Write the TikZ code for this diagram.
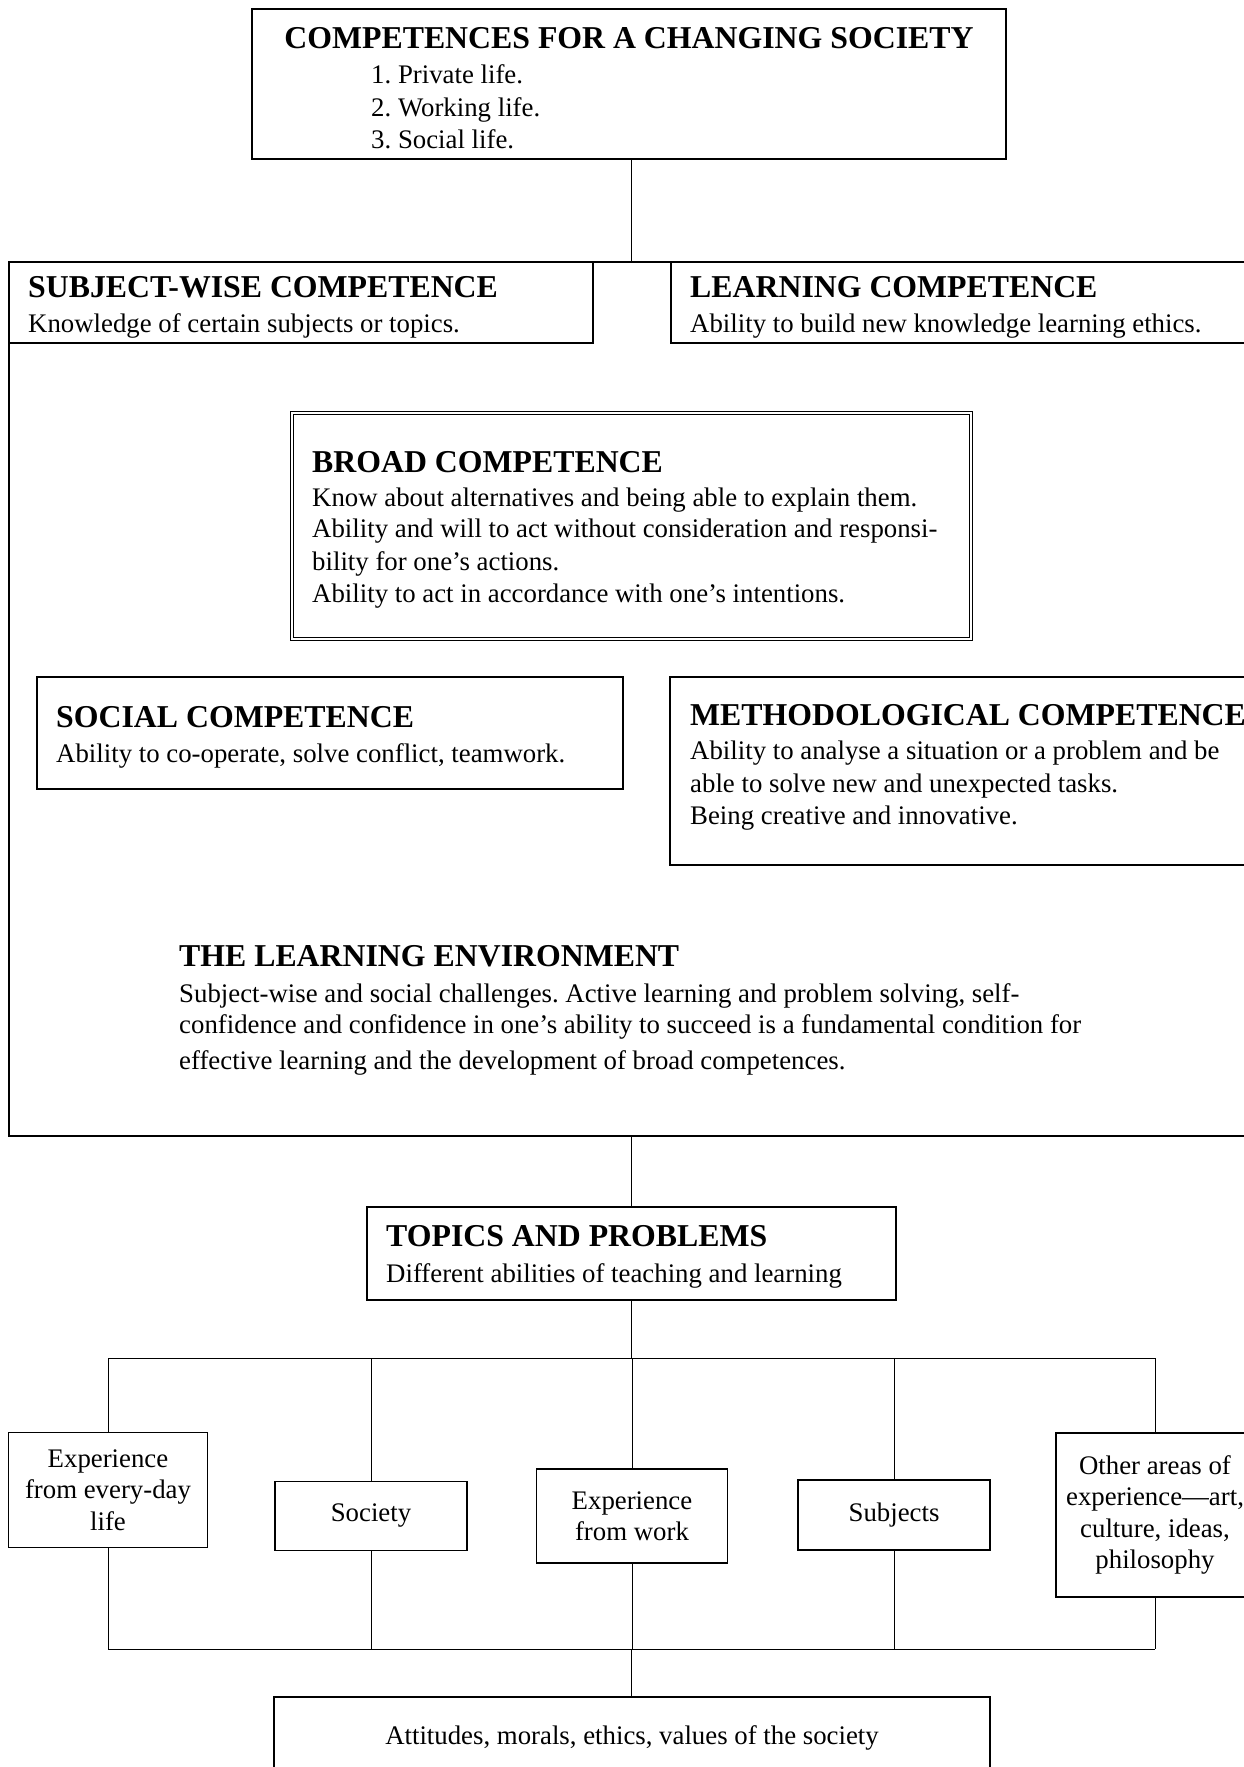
\documentclass[tikz,border=0pt]{standalone}
\usepackage{fontspec}
\setmainfont{Liberation Serif}
\frenchspacing
\begin{document}
\begin{tikzpicture}[x=1pt,y=-1pt,
  box/.style={draw, line width=1.4pt, anchor=north west, inner sep=0pt, outer sep=0pt},
  sbox/.style={draw, line width=1.4pt, anchor=center, inner sep=0pt, outer sep=0pt, align=center,
     font=\fontsize{26.8}{31.5}\selectfont},
  ttl/.style={anchor=base west, inner sep=0pt, font=\fontsize{31.8}{36}\selectfont\bfseries},
  txt/.style={anchor=base west, inner sep=0pt, font=\fontsize{26.8}{32}\selectfont},
  conn/.style={line width=1pt}]
\useasboundingbox (0,0) rectangle (1244,1767);
\clip (0,0) rectangle (1244,1767);
\fill[white] (0,0) rectangle (1244,1767);

% top box
\node[box, minimum width=754pt, minimum height=150pt] (top) at (252,9) {};
\node[ttl, anchor=base] (t0) at (629,48) {COMPETENCES FOR A CHANGING SOCIETY};
\node[txt] (t1) at (371,83) {1. Private life.};
\node[txt] (t2) at (371,116) {2. Working life.};
\node[txt] (t3) at (371,148) {3. Social life.};

% frame
\node[box, minimum width=1300pt, minimum height=874pt] (frame) at (9,262) {};
\coordinate (sp) at (631,0);
\draw[conn] (sp |- top.south) -- (sp |- frame.north);

% subject-wise
\node[box, minimum width=584pt, minimum height=81pt] (subj) at (9,262) {};
\node[ttl] (s0) at (28,297) {SUBJECT-WISE COMPETENCE};
\node[txt] (s1) at (28,332) {Knowledge of certain subjects or topics.};

% learning
\node[box, minimum width=640pt, minimum height=81pt] (learn) at (671,262) {};
\node[ttl] (l0) at (690,297) {LEARNING COMPETENCE};
\node[txt] (l1) at (690,332) {Ability to build new knowledge learning ethics.};

% broad
\node[box, line width=1pt, double, double distance=2pt, minimum width=679pt, minimum height=226pt] (broad) at (292,413) {};
\node[ttl] (b0) at (312,472) {BROAD COMPETENCE};
\node[txt] (b1) at (312,506) {Know about alternatives and being able to explain them.};
\node[txt] (b2) at (312,537) {Ability and will to act without consideration and responsi-};
\node[txt] (b3) at (312,570) {bility for one’s actions.};
\node[txt] (b4) at (312,602) {Ability to act in accordance with one’s intentions.};

% social
\node[box, minimum width=586pt, minimum height=112pt] (social) at (37,677) {};
\node[ttl] (so0) at (56,727) {SOCIAL COMPETENCE};
\node[txt] (so1) at (56,762) {Ability to co-operate, solve conflict, teamwork.};

% methodological
\node[box, minimum width=640pt, minimum height=188pt] (method) at (670,677) {};
\node[ttl] (m0) at (690,725) {METHODOLOGICAL COMPETENCE};
\node[txt] (m1) at (690,759) {Ability to analyse a situation or a problem and be};
\node[txt] (m2) at (690,792) {able to solve new and unexpected tasks.};
\node[txt] (m3) at (690,824) {Being creative and innovative.};

% learning environment
\node[ttl] (env0) at (179,966) {THE LEARNING ENVIRONMENT};
\node[txt] (env1) at (179,1002) {Subject-wise and social challenges. Active learning and problem solving, self-};
\node[txt] (env2) at (179,1033) {confidence and confidence in one’s ability to succeed is a fundamental condition for};
\node[txt] (env3) at (179,1069) {effective learning and the development of broad competences.};

% topics
\node[box, minimum width=529pt, minimum height=93pt] (topics) at (367,1207) {};
\node[ttl] (tp0) at (386,1246) {TOPICS AND PROBLEMS};
\node[txt] (tp1) at (386,1282) {Different abilities of teaching and learning};
\draw[conn] (sp |- frame.south) -- (sp |- topics.north);

% branch boxes
\node[sbox, minimum width=199pt, minimum height=115pt] (x1) at (108,1490) {Experience\\from every-day\\life};
\node[sbox, minimum width=192pt, minimum height=69pt] (x2) at (371,1516) {Society};
\node[sbox, minimum width=191pt, minimum height=94pt] (x3) at (632,1516) {Experience\\from work};
\node[sbox, minimum width=192pt, minimum height=70pt] (x4) at (894,1515) {Subjects};
\node[sbox, minimum width=198pt, minimum height=164pt] (x5) at (1155,1515) {Other areas of\\experience—art,\\culture, ideas,\\philosophy};

\coordinate (bh) at (0,1358);
\coordinate (bb) at (0,1649);
\draw[conn] (sp |- topics.south) -- (sp |- bh);
\draw[conn] (x1.north |- bh) -- (x5.north |- bh);
\foreach \n in {x1,x2,x3,x4,x5}{
  \draw[conn] (\n.north |- bh) -- (\n.north);
  \draw[conn] (\n.south) -- (\n.south |- bb);
}
\draw[conn] (x1.south |- bb) -- (x5.south |- bb);

% bottom box
\node[box, minimum width=716pt, minimum height=120pt] (bottom) at (274,1697) {};
\node[txt, anchor=base] (bt) at (632,1744) {Attitudes, morals, ethics, values of the society};
\draw[conn] (sp |- bb) -- (sp |- bottom.north);
\end{tikzpicture}
\end{document}
